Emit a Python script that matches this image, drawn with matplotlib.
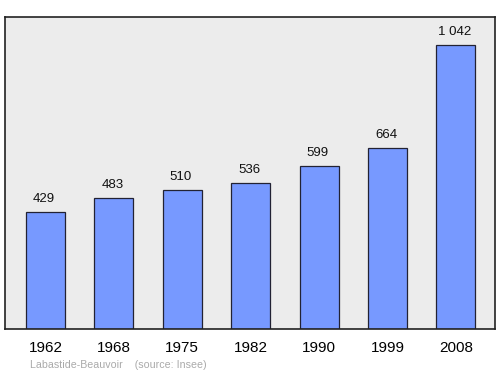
import matplotlib
matplotlib.use("Agg")
import matplotlib.pyplot as plt

plt.rcParams["font.family"] = ["Liberation Sans", "DejaVu Sans"]

years = ["1962", "1968", "1975", "1982", "1990", "1999", "2008"]
population = [429, 483, 510, 536, 599, 664, 1042]
value_labels = ["429", "483", "510", "536", "599", "664", "1 042"]
commune = "Labastide-Beauvoir"
source = "(source: Insee)"

fig = plt.figure(figsize=(5, 3.74), dpi=100)
ax = fig.add_axes([0.01, 0.1203, 0.98, 0.8342])
ax.set_facecolor("#ececec")
x = list(range(len(years)))
ax.bar(x, population, width=0.57, color="#7799ff", edgecolor="#222233", linewidth=0.9, zorder=2)
for xi, v, lab in zip(x, population, value_labels):
    ax.annotate(lab, (xi - 0.02, v), xytext=(0, 5), textcoords="offset points",
                ha="center", va="bottom", fontsize=9.5, color="#111111")
ax.set_xlim(-0.59, 6.57)
ax.set_ylim(0, 1146)
ax.set_yticks([])
ax.set_xticks(x)
ax.set_xticklabels(years, fontsize=11)
ax.tick_params(axis="x", length=0, pad=8.5)
for s in ax.spines.values():
    s.set_linewidth(1.2)
    s.set_color("#222222")
fig.text(30/500, 1-365/374, commune + "    " + source, fontsize=7.7, color="#aaaaaa", ha="left", va="center")
fig.savefig("out.png", dpi=100)
